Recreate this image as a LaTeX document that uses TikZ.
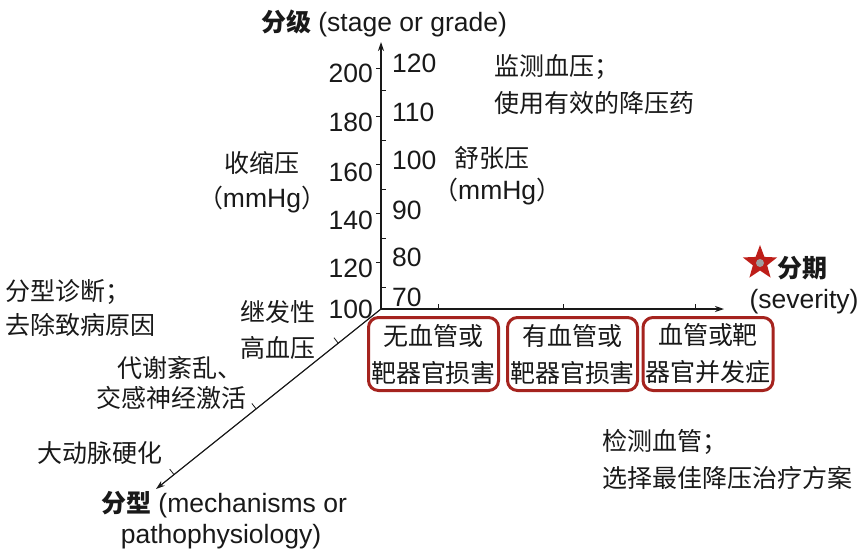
\documentclass[tikz,border=0pt]{standalone}
\usepackage{fontspec}
\setmainfont{Liberation Sans}
\newfontfamily\cjk[Scale=0.943]{Noto Sans CJK SC}
\usetikzlibrary{shapes.geometric,arrows.meta,calc}
\definecolor{ink}{RGB}{25,25,25}
\definecolor{boxred}{RGB}{165,35,30}
\definecolor{starred}{RGB}{190,30,25}
\newcommand{\zh}[1]{{\cjk #1}}
\begin{document}
\begin{tikzpicture}[x=1pt,y=-1pt,
  lbl/.style={inner sep=0pt, text=ink, font=\fontsize{26.5}{30}\selectfont},
  axisline/.style={draw=ink, line width=1.2pt, -{Stealth[length=9pt,width=6pt]}},
  tickline/.style={draw=ink, line width=0.8pt},
  redbox/.style={draw=boxred, line width=3pt, rounded corners=10pt, minimum width=130pt, minimum height=73pt, inner sep=1pt, align=center, text=ink, font=\fontsize{26.5}{37}\selectfont\cjk},
]
\useasboundingbox (0,0) rectangle (865,558);

% axes
\coordinate (O) at (381,309);
\coordinate (T) at (381,42);
\coordinate (R) at (724,309);
\coordinate (D) at (156,489);
\draw[axisline] (O) -- (T);
\draw[axisline] (O) -- (R);
\draw[axisline] (O) -- (D);

% ticks on vertical axis
\foreach \y in {68,116,164,213,262} \draw[tickline] (381,\y) -- (376,\y);
\foreach \y in {90,140,189,238,287} \draw[tickline] (381,\y) -- (386,\y);
% ticks on horizontal axis
\foreach \x in {438,563,695} \draw[tickline] (\x,309) -- (\x,304);
% ticks on diagonal axis
\foreach \t in {0.19,0.555,0.92} \draw[tickline] ($(O)!\t!(D)$) -- ++(-4.3,-5.5);

% title
\node[lbl] (title) at (384,23) {\zh{\bfseries 分级} (stage or grade)};

% systolic scale
\node[lbl, anchor=east] (s200) at (373,73) {200};
\node[lbl, anchor=east] (s180) at (373,122) {180};
\node[lbl, anchor=east] (s160) at (373,172) {160};
\node[lbl, anchor=east] (s140) at (373,220) {140};
\node[lbl, anchor=east] (s120) at (373,268) {120};
\node[lbl, anchor=east] (s100) at (373,309) {100};
% diastolic scale
\node[lbl, anchor=west] (d120) at (392,63) {120};
\node[lbl, anchor=west] (d110) at (392,112) {110};
\node[lbl, anchor=west] (d100) at (392,160) {100};
\node[lbl, anchor=west] (d90) at (392,210) {90};
\node[lbl, anchor=west] (d80) at (392,257) {80};
\node[lbl, anchor=west] (d70) at (392,297) {70};

\node[lbl] (sys1) at (262,163) {\zh{收缩压}};
\node[lbl] (sys2) at (262,200) {\zh{（}mmHg\zh{）}};
\node[lbl, anchor=west] (dia1) at (454,158) {\zh{舒张压}};
\node[lbl, anchor=west] (dia2) at (433,192) {\zh{（}mmHg\zh{）}};

\node[lbl, anchor=west] (mon1) at (494,67) {\zh{监测血压；}};
\node[lbl, anchor=west] (mon2) at (494,103) {\zh{使用有效的降压药}};

\node[lbl, anchor=west] (typ1) at (5,292) {\zh{分型诊断；}};
\node[lbl, anchor=west] (typ2) at (5,325) {\zh{去除致病原因}};
\node[lbl] (sec1) at (278,312) {\zh{继发性}};
\node[lbl] (sec2) at (278,348) {\zh{高血压}};
\node[lbl, anchor=west] (met1) at (117,368) {\zh{代谢紊乱、}};
\node[lbl, anchor=west] (met2) at (96,398) {\zh{交感神经激活}};
\node[lbl, anchor=west] (art) at (37,453) {\zh{大动脉硬化}};
\node[lbl] (mech1) at (224,505) {\zh{\bfseries 分型} (mechanisms or};
\node[lbl] (mech2) at (221,537) {pathophysiology)};

% severity axis label
\node[star, star points=5, star point ratio=2.4, fill=starred, minimum size=36pt, inner sep=0pt] (star) at (760,263) {};
\fill[gray!75] (star.center) circle (4pt);
\node[lbl, anchor=west] (sev1) at (777,268) {\zh{\bfseries 分期}};
\node[lbl] (sev2) at (804,302) {(severity)};

% stage boxes
\node[redbox] (b1) at (433.5,354) {无血管或\\靶器官损害};
\node[redbox] (b2) at (572.5,354) {有血管或\\靶器官损害};
\node[redbox] (b3) at (708,354) {血管或靶\\器官并发症};

\node[lbl, anchor=west] (ves1) at (602,442) {\zh{检测血管；}};
\node[lbl, anchor=west] (ves2) at (602,478) {\zh{选择最佳降压治疗方案}};
\end{tikzpicture}
\end{document}
